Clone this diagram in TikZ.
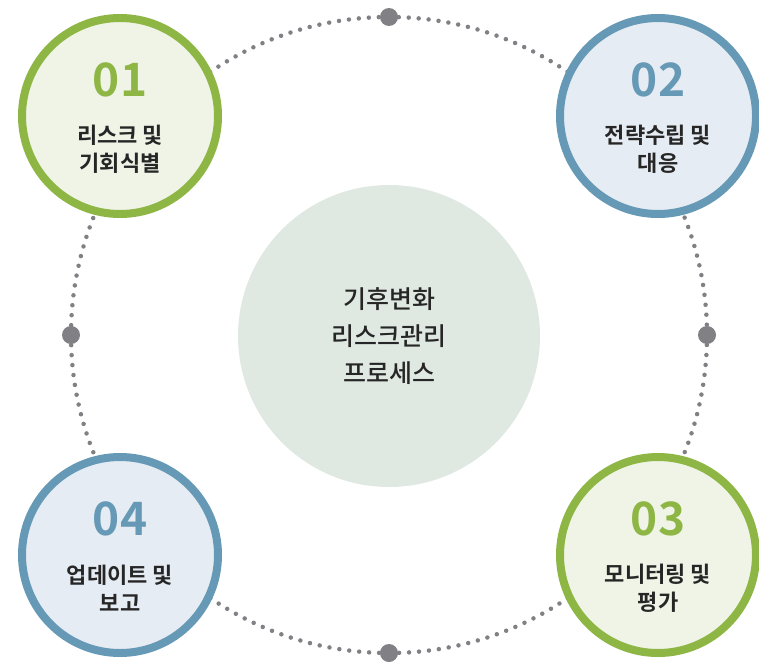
\documentclass[tikz,border=0pt]{standalone}
\usepackage{fontspec}
\newfontfamily\krm{Noto Sans CJK KR Medium}
\newfontfamily\krb{Noto Sans CJK KR Bold}
\definecolor{ringgreen}{HTML}{8DB645}
\definecolor{fillgreen}{HTML}{F0F4E7}
\definecolor{ringblue}{HTML}{6699B5}
\definecolor{fillblue}{HTML}{E6ECF3}
\definecolor{centerfill}{HTML}{DFE9E2}
\definecolor{dotgray}{HTML}{808085}
\definecolor{txt}{HTML}{262626}
\tikzset{
  stagegreen/.style={circle,draw=ringgreen,fill=fillgreen,line width=8pt,minimum size=196pt,inner sep=0pt},
  stageblue/.style={circle,draw=ringblue,fill=fillblue,line width=8pt,minimum size=196pt,inner sep=0pt},
  numgreen/.style={font=\krb\fontsize{46}{46}\selectfont,text=ringgreen},
  numblue/.style={font=\krb\fontsize{46}{46}\selectfont,text=ringblue},
  lbl/.style={font=\krb\fontsize{22}{28}\selectfont,text=txt,align=center},
  bigdot/.style={circle,fill=dotgray,minimum size=18pt,inner sep=0pt},
}
\begin{document}
\begin{tikzpicture}[x=1pt,y=-1pt]
\useasboundingbox (0,0) rectangle (759,661);
\coordinate (c) at (389,335);
\draw[dotgray,line width=4.5pt,line cap=round,dash pattern=on 0pt off 9.99pt] (c) circle (318);
\node[bigdot] (dt) at (389,17) {};
\node[bigdot] (dr) at (707,335) {};
\node[bigdot] (db) at (389,653) {};
\node[bigdot] (dl) at (71,335) {};
\node[circle,fill=centerfill,minimum size=302pt,inner sep=0pt] (center) at (389,336) {};
\node[font=\krm\fontsize{25}{37}\selectfont,text=txt,align=center] (ctext) at (389,336) {기후변화\\리스크관리\\프로세스};
\node[stagegreen] (s1) at (120,116) {};
\node[stageblue] (s2) at (658,116) {};
\node[stagegreen] (s3) at (658,555) {};
\node[stageblue] (s4) at (120,555) {};
\node[numgreen] (n1) at (120,80) {01};
\node[numblue] (n2) at (658,80) {02};
\node[numgreen] (n3) at (658,519) {03};
\node[numblue] (n4) at (120,519) {04};
\node[lbl] (l1) at (120,149) {리스크 및\\기회식별};
\node[lbl] (l2) at (658,149) {전략수립 및\\대응};
\node[lbl] (l3) at (658,588) {모니터링 및\\평가};
\node[lbl] (l4) at (120,588) {업데이트 및\\보고};
\end{tikzpicture}
\end{document}
